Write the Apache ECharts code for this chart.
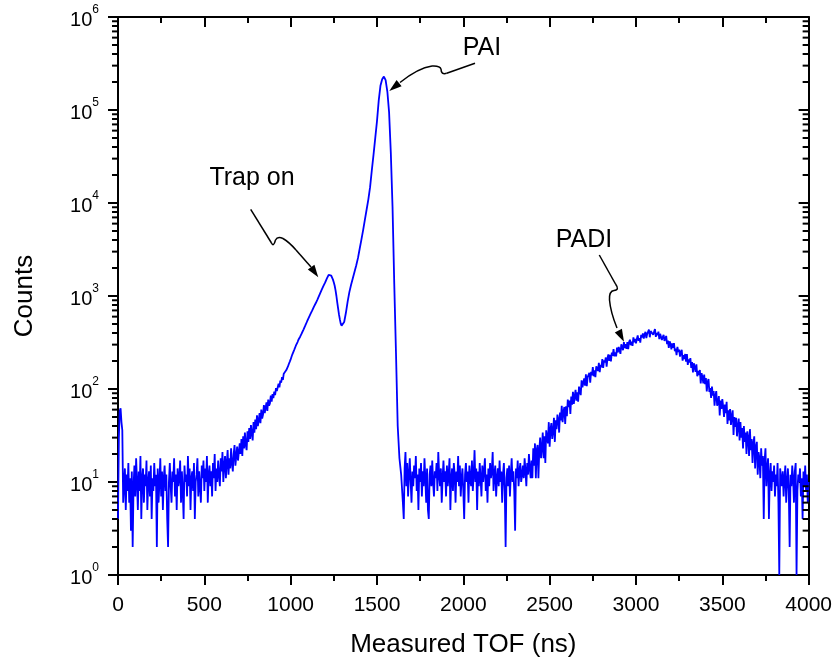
<!DOCTYPE html>
<html>
<head>
<meta charset="utf-8">
<script src="https://cdn.jsdelivr.net/npm/echarts@6/dist/echarts.min.js"></script>
<style>
html,body{margin:0;padding:0;background:#fff;}
#chart{width:835px;height:663px;}
</style>
</head>
<body>
<div id="chart"></div>
<script>
// ---- data: TOF histogram, counts ----
const binFine = 5;     // ns per point in the noisy parts
const binPeak = 10;    // ns per point across the PAI peak

// 0 .. 695 ns : start spike and low background
const startA = 0;
const countsA = [4, 30, 58, 62, 44, 36, 6, 9, 14, 5,
  12, 8, 16, 6, 11, 3, 13, 2, 9, 15,
  7, 18, 10, 5, 13, 8, 19, 4, 11, 14,
  6, 12, 9, 17, 5, 10, 13, 7, 15, 4,
  11, 8, 16, 9, 12, 2, 14, 6, 10, 18,
  7, 13, 5, 11, 15, 8, 12, 4, 2, 10,
  16, 9, 6, 13, 10, 18, 7, 12, 5, 14,
  9, 11, 17, 6, 13, 8, 4, 15, 10, 12,
  7, 19, 9, 14, 5, 11, 13, 8, 16, 4,
  10, 12, 18, 7, 13, 9, 6, 15, 11, 17,
  8, 14, 10, 19, 6, 12, 15, 9, 13, 7,
  16, 11, 20, 8, 14, 10, 17, 12, 9, 18,
  13, 21, 10, 15, 19, 11, 16, 22, 12, 18,
  14, 23, 16, 13, 20, 25, 15, 19, 24, 17];

// 700 .. 1295 ns : rise to the "Trap on" peak
const startB = 700;
const countsB = [17, 26, 20, 29, 19, 31, 23, 34, 25, 22,
  35, 27, 38, 29, 41, 33, 28, 44, 34, 47,
  37, 52, 40, 46, 55, 43, 60, 48, 53, 67,
  55, 63, 72, 58, 77, 66, 70, 85, 73, 88,
  80, 94, 86, 102, 95, 99, 114, 104, 123, 117,
  134, 125, 146, 139, 151, 160, 168, 176, 187, 197,
  208, 222, 236, 246, 262, 275, 292, 303, 320, 338,
  350, 365, 382, 400, 420, 438, 458, 482, 505, 532,
  556, 585, 612, 642, 668, 700, 735, 768, 800, 835,
  872, 915, 962, 1010, 1062, 1115, 1170, 1225, 1282, 1340,
  1400, 1475, 1550, 1625, 1690, 1715, 1700, 1655, 1590, 1500,
  1400, 1290, 1150, 1000, 850, 730, 630, 560, 505, 480];

// 1300 .. 1640 ns : PAI peak
const startC = 1300;
const countsC = [470, 525, 660, 870, 1100, 1320, 1550, 1820, 2140, 2570,
  3240, 4070, 5130, 6610, 8510, 10960, 14790, 22390, 33110, 50120,
  75860, 125900, 182000, 213800, 229100, 209000, 158000, 95000, 35000, 9100,
  1350, 245, 40, 18, 12];

// 1650 .. 2395 ns : background between the peaks
const startD = 1650;
const countsD = [6, 4, 14, 21, 9, 16, 7, 12, 18, 10,
  6, 13, 9, 15, 11, 19, 8, 12, 5, 14,
  10, 16, 7, 13, 9, 18, 11, 6, 14, 5,
  4, 12, 15, 9, 17, 10, 7, 13, 11, 16,
  8, 21, 12, 9, 14, 6, 11, 17, 10, 13,
  7, 15, 9, 12, 18, 5, 11, 14, 8, 16,
  12, 6, 13, 10, 19, 9, 15, 7, 11, 14,
  8, 4, 12, 16, 10, 13, 6, 15, 11, 9,
  17, 8, 12, 22, 10, 14, 5, 13, 9, 16,
  11, 7, 15, 10, 13, 18, 8, 12, 6, 14,
  9, 16, 11, 13, 21, 8, 12, 15, 7, 11,
  14, 9, 17, 10, 13, 6, 12, 16, 8, 2,
  11, 14, 9, 15, 7, 12, 18, 10, 13, 8,
  3, 14, 11, 17, 9, 13, 16, 10, 12, 15,
  11, 18, 13, 9, 16, 12, 20, 14, 11, 17];

// 2400 .. 3595 ns : PADI peak
const startE = 2400;
const countsE = [11, 23, 15, 26, 11, 22, 25, 11, 22, 30,
  18, 23, 34, 18, 31, 16, 36, 30, 26, 44,
  24, 37, 43, 29, 35, 49, 27, 46, 37, 53,
  47, 34, 56, 46, 66, 44, 57, 64, 42, 65,
  51, 77, 64, 75, 54, 83, 68, 93, 69, 84,
  98, 75, 92, 73, 106, 104, 86, 124, 104, 100,
  130, 109, 144, 107, 134, 130, 149, 117, 153, 140,
  172, 137, 159, 134, 175, 174, 156, 191, 152, 182,
  172, 210, 169, 203, 193, 218, 174, 215, 235, 201,
  233, 198, 247, 228, 268, 224, 247, 224, 278, 247,
  283, 260, 239, 302, 281, 261, 320, 275, 303, 271,
  319, 269, 319, 339, 296, 323, 291, 359, 319, 346,
  309, 346, 376, 330, 353, 315, 382, 357, 396, 348,
  387, 412, 352, 391, 377, 434, 360, 419, 400, 433,
  383, 414, 440, 363, 401, 379, 413, 343, 392, 390,
  336, 362, 382, 329, 338, 372, 304, 332, 277, 325,
  307, 266, 310, 277, 312, 255, 272, 231, 284, 250,
  266, 223, 249, 263, 202, 231, 210, 238, 197, 238,
  182, 208, 193, 215, 169, 195, 151, 189, 172, 153,
  184, 137, 157, 141, 160, 115, 148, 134, 115, 143,
  113, 131, 94, 118, 128, 93, 102, 80, 106, 85,
  95, 66, 85, 95, 66, 71, 84, 52, 75, 61,
  78, 65, 50, 68, 55, 73, 42, 59, 46, 61,
  41, 51, 59, 32, 50, 39, 49, 31, 40, 48];

// 3600 .. 4000 ns : tail
const startF = 3600;
const countsF = [28, 44, 30, 38, 23, 40, 27, 34, 20, 35,
  30, 19, 37, 22, 29, 16, 26, 31, 14, 24,
  27, 12, 21, 18, 11, 23, 15, 19, 4, 17,
  23, 9, 14, 18, 4, 12, 16, 8, 13, 10,
  15, 7, 12, 9, 16, 6, 1, 14, 11, 9,
  13, 7, 11, 15, 6, 10, 14, 8, 2, 12,
  9, 15, 11, 6, 13, 16, 1, 8, 12, 10,
  14, 7, 11, 4, 13, 9, 15, 8, 12, 6,
  10];

// axis settings
const xMin = 0, xMax = 4000, xStep = 500;
const yMin = 1, yMax = 1e6;

// annotations
const annoTexts = ['Trap on', 'PAI', 'PADI'];

function toPairs(start, step, arr) {
  return arr.map((c, i) => [start + i * step, c]);
}
const tofData = [].concat(
  toPairs(startA, binFine, countsA), toPairs(startB, binFine, countsB),
  toPairs(startC, binPeak, countsC), toPairs(startD, binFine, countsD),
  toPairs(startE, binFine, countsE), toPairs(startF, binFine, countsF)
);

// minor tick positions on the log axis (2..9 x each decade)
const minorY = [];
for (let d = 0; d < 6; d++) {
  for (let m = 2; m <= 9; m++) minorY.push([xMin, m * Math.pow(10, d)]);
}

const FONT = 'Liberation Sans, Arial, Helvetica, sans-serif';
const chart = echarts.init(document.getElementById('chart'), null, {renderer: 'canvas'});

const axisLineStyle = {color: '#000', width: 2};
const yLabelFmt = v => '{b|10}{s|' + Math.round(Math.log10(v)) + '}';

const arrowStyle = {fill: null, stroke: '#000', lineWidth: 1.5};
function seg(x1, y1, x2, y2) {
  return {type: 'line', shape: {x1, y1, x2, y2}, style: arrowStyle};
}
function qc(x1, y1, cx, cy, x2, y2) {
  return {type: 'bezierCurve', shape: {x1, y1, cpx1: cx, cpy1: cy, x2, y2}, style: arrowStyle};
}

const option = {
  animation: false,
  backgroundColor: '#fff',
  grid: {left: 118, top: 17, right: 25, bottom: 85, containLabel: false},
  xAxis: [{
    type: 'value', min: xMin, max: xMax, interval: xStep, position: 'bottom',
    name: 'Measured TOF (ns)', nameLocation: 'middle', nameGap: 57,
    nameTextStyle: {fontSize: 26, color: '#000', fontFamily: FONT},
    axisLine: {show: true, onZero: false, lineStyle: axisLineStyle},
    axisTick: {show: true, inside: false, length: 10, lineStyle: {color: '#000', width: 2}},
    minorTick: {show: true, splitNumber: 2, length: 6, lineStyle: {color: '#000', width: 2}},
    axisLabel: {fontSize: 21, color: '#000', fontFamily: FONT, margin: 20, formatter: v => String(v)},
    splitLine: {show: false}, minorSplitLine: {show: false}
  }, {
    type: 'value', min: xMin, max: xMax, interval: xStep, position: 'top',
    axisLine: {show: true, onZero: false, lineStyle: axisLineStyle},
    axisTick: {show: true, inside: true, length: 10, lineStyle: {color: '#000', width: 2}},
    minorTick: {show: true, splitNumber: 2, length: 6, lineStyle: {color: '#000', width: 2}},
    axisLabel: {show: false},
    splitLine: {show: false}, minorSplitLine: {show: false}
  }],
  yAxis: [{
    type: 'log', logBase: 10, min: yMin, max: yMax, position: 'left',
    name: 'Counts', nameLocation: 'middle', nameGap: 80,
    nameTextStyle: {fontSize: 26, color: '#000', fontFamily: FONT},
    axisLine: {show: true, onZero: false, lineStyle: axisLineStyle},
    axisTick: {show: true, inside: false, length: 10, lineStyle: {color: '#000', width: 2}},
    axisLabel: {
      color: '#000', margin: 19, formatter: yLabelFmt,
      rich: {
        b: {fontSize: 20, fontFamily: FONT, color: '#000', padding: [6, 0, 0, 0]},
        s: {fontSize: 12, fontFamily: FONT, color: '#000', verticalAlign: 'top'}
      }
    },
    splitLine: {show: false}
  }, {
    type: 'log', logBase: 10, min: yMin, max: yMax, position: 'right',
    axisLine: {show: true, onZero: false, lineStyle: axisLineStyle},
    axisTick: {show: true, inside: true, length: 10, lineStyle: {color: '#000', width: 2}},
    axisLabel: {show: false},
    splitLine: {show: false}
  }],
  series: [{
    type: 'line', name: 'TOF', data: tofData,
    xAxisIndex: 0, yAxisIndex: 0,
    showSymbol: false, symbol: 'none', clip: true,
    lineStyle: {color: '#0000ff', width: 1.8},
    z: 3
  }, {
    type: 'custom', name: 'minorTicks', data: minorY,
    xAxisIndex: 0, yAxisIndex: 0, clip: false, silent: true, z: 4,
    encode: {x: 0, y: 1},
    renderItem: function (params, api) {
      const v = api.value(1);
      const pL = api.coord([xMin, v]);
      const pR = api.coord([xMax, v]);
      return {
        type: 'group',
        children: [
          {type: 'line', shape: {x1: pL[0] - 6, y1: pL[1], x2: pL[0], y2: pL[1]},
           style: {stroke: '#000', lineWidth: 2}},
          {type: 'line', shape: {x1: pR[0] - 6, y1: pR[1], x2: pR[0], y2: pR[1]},
           style: {stroke: '#000', lineWidth: 2}}
        ]
      };
    }
  }],
  graphic: [
    {type: 'text', x: 252, y: 178,
     style: {text: annoTexts[0], fontSize: 25, fontFamily: FONT, fill: '#000', align: 'center', verticalAlign: 'middle'}},
    {type: 'text', x: 482, y: 48,
     style: {text: annoTexts[1], fontSize: 25, fontFamily: FONT, fill: '#000', align: 'center', verticalAlign: 'middle'}},
    {type: 'text', x: 584, y: 240,
     style: {text: annoTexts[2], fontSize: 25, fontFamily: FONT, fill: '#000', align: 'center', verticalAlign: 'middle'}},
    // Trap on arrow
    seg(250.7, 209.3, 271.5, 243),
    qc(271.5, 243, 273.5, 247.5, 275.5, 240),
    qc(275.5, 240, 277.5, 236, 283, 238.5),
    qc(283, 238.5, 289, 242, 296, 250),
    seg(296, 250, 311, 267),
    {type: 'polygon', shape: {points: [[318.3, 277.3], [307.8, 269.4], [314.4, 264.8]]}, style: {fill: '#000'}},
    // PAI arrow
    seg(475, 63.3, 446.7, 73.3),
    qc(446.7, 73.3, 441, 75, 441, 69),
    qc(441, 69, 440, 65.5, 432, 66),
    qc(432, 66, 418, 68, 400, 82.5),
    {type: 'polygon', shape: {points: [[389.3, 91], [401.6, 86.3], [396.6, 80.1]]}, style: {fill: '#000'}},
    // PADI arrow
    seg(599.3, 255, 615.5, 284),
    qc(615.5, 284, 620, 290, 614, 290.5),
    qc(614, 290.5, 609, 291, 609.5, 300),
    qc(609.5, 300, 610.5, 312, 617, 328),
    {type: 'polygon', shape: {points: [[624, 341.7], [614.8, 332.4], [621.9, 328.8]]}, style: {fill: '#000'}}
  ]
};
chart.setOption(option);
</script>
</body>
</html>
